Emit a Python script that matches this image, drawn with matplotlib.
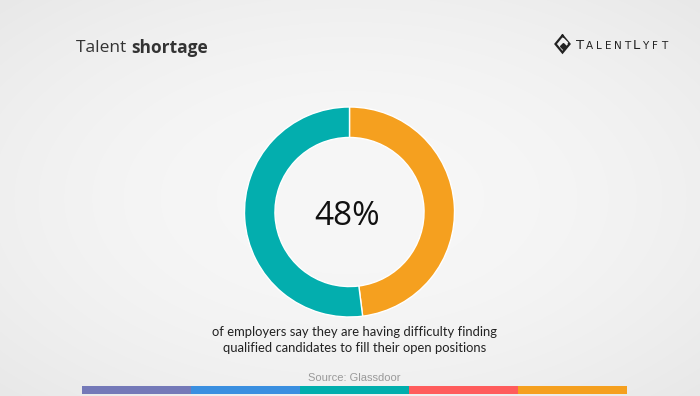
import numpy as np
import matplotlib

matplotlib.use("Agg")
import matplotlib.pyplot as plt

# data
labels = ["Have difficulty", "Other"]
values = [48, 52]
colors = ["#f5a01f", "#03aeae"]
headline = "48%"
caption = ("of employers say they are having difficulty finding\n"
           "qualified candidates to fill their open positions")
source = "Source: Glassdoor"
strip_colors = ["#7479b8", "#3a8fe0", "#00aead", "#ff5c5c", "#f5a01f"]

W, H = 700, 396
plt.rcParams["font.family"] = ["Open Sans", "DejaVu Sans"]

fig = plt.figure(figsize=(W / 100, H / 100), dpi=100)

# background with soft radial shading
bg = fig.add_axes([0, 0, 1, 1])
yy, xx = np.mgrid[0:H, 0:W]
r = np.hypot((xx - W / 2) / (W / 2), (yy - H / 2) / (H / 2))
shade = 0.965 - 0.05 * np.clip(r - 0.35, 0, None) ** 1.5
bg.imshow(np.dstack([shade] * 3), extent=(0, W, H, 0), aspect="auto")
bg.set_xlim(0, W)
bg.set_ylim(H, 0)
bg.axis("off")

# title
t = bg.text(76, 48, "Talent ", fontsize=12.5, color="#333333", va="center", ha="left")
fig.canvas.draw()
ext = t.get_window_extent()
bg.text(76 + ext.width, 48, "shortage", fontsize=12.5, fontweight="bold",
        color="#333333", va="center", ha="left")

# logo
cx, cy, sx, sy = 562.5, 44, 7, 8.5
bg.plot([cx, cx + sx, cx, cx - sx, cx], [cy - sy, cy, cy + sy, cy, cy - sy],
        color="#222222", lw=1.6, solid_joinstyle="miter")
bg.plot([cx], [cy + 2], marker="D", ms=3, color="#222222")
bg.plot([cx + 1, cx + 4], [cy - 4.5, cy - 1.5], color="#f3f3f3", lw=1.8)
for i, ch in enumerate("TALENTLYFT"):
    size = 9.5 if i in (0, 6) else 7.5
    bg.text(580.5 + i * 9.3, 49, ch, fontsize=size, color="#222222", va="baseline",
            ha="center", family="DejaVu Sans")

# donut
R = 105
ax = fig.add_axes([(349.5 - R) / W, (H - 212 - R) / H, 2 * R / W, 2 * R / H])
ax.pie(values, colors=colors, startangle=90, counterclock=False, radius=1,
       wedgeprops=dict(width=0.29, edgecolor="white", linewidth=1))
ax.set_xlim(-1, 1)
ax.set_ylim(-1, 1)
ax.axis("off")
ax.text(-0.02, -0.04, headline, fontsize=24, ha="center", va="center", color="#111111")

# caption
bg.text(355, 340, caption, fontsize=9.4, ha="center", va="center", color="#222222",
        linespacing=1.4, family="Lato")
bg.text(354, 378, source, fontsize=8, ha="center", va="center", color="#9a9a9a",
        family="Liberation Sans")

# colour strip
x0, seg = 82, 109
for i, c in enumerate(strip_colors):
    bg.add_patch(plt.Rectangle((x0 + i * seg, 386), seg, 8, color=c, lw=0))

fig.savefig("out.png", dpi=100)
